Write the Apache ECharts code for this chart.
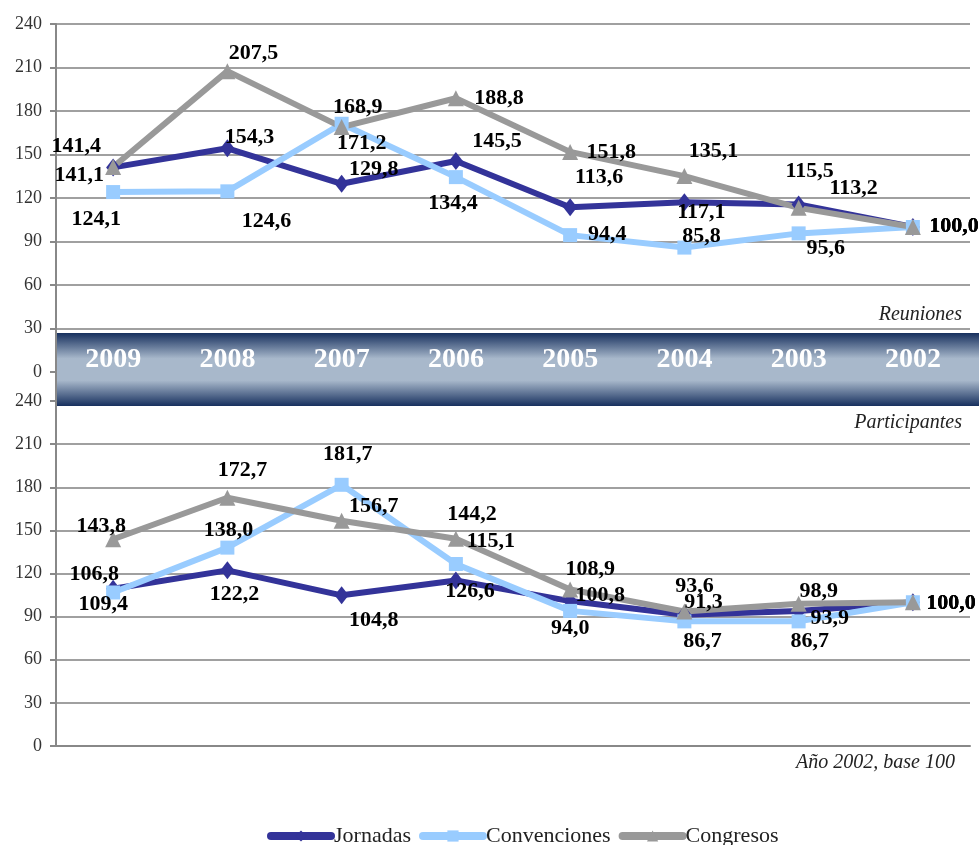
<!DOCTYPE html>
<html>
<head>
<meta charset="utf-8">
<script src="https://cdn.jsdelivr.net/npm/echarts@6/dist/echarts.min.js"></script>
<style>
  html, body { margin: 0; padding: 0; background: #fff; }
  #chart { width: 979px; height: 845px; }
</style>
</head>
<body>
<div id="chart"></div>
<script>
// categories
var years = ['2009', '2008', '2007', '2006', '2005', '2004', '2003', '2002'];
var yTicks = [0, 30, 60, 90, 120, 150, 180, 210, 240];

// Reuniones (top)
var reunJornadas = [141.1, 154.3, 129.8, 145.5, 113.6, 117.1, 115.5, 100.0];
var reunConvenciones = [124.1, 124.6, 171.2, 134.4, 94.4, 85.8, 95.6, 100.0];
var reunCongresos = [141.4, 207.5, 168.9, 188.8, 151.8, 135.1, 113.2, 100.0];

// Participantes (bottom)
var partJornadas = [109.4, 122.2, 104.8, 115.1, 100.8, 91.3, 93.9, 100.0];
var partConvenciones = [106.8, 138.0, 181.7, 126.6, 94.0, 86.7, 86.7, 100.0];
var partCongresos = [143.8, 172.7, 156.7, 144.2, 108.9, 93.6, 98.9, 100.0];

// label placement (px offsets from the point), styling only
var offReunJor = [[-34, 8], [22, -11], [32, -14], [41, -20], [29, -30], [17, 10], [11, -33], [41, -1]];
var offReunCon = [[-17, 27], [39, 30], [20, 20], [-3, 26], [37, -1], [17, -11], [27, 15], [41, -1]];
var offReunCgr = [[-37, -21], [26, -18], [16, -20], [43, 0], [41, 0], [29, -25], [55, -20], [41, -1]];
var offPartJor = [[-10, 16], [7, 24], [32, 25], [35, -39], [30, -6], [19, -12], [31, 7], [38, 1]];
var offPartCon = [[-19, -18], [1, -17], [6, -30], [14, 27], [0, 17], [18, 20], [11, 20], [38, 1]];
var offPartCgr = [[-12, -13], [15, -27], [32, -14], [16, -24], [20, -20], [10, -25], [20, -13], [38, 1]];

var serif = '"Liberation Serif", "DejaVu Serif", serif';
var colJor = '#333399';
var colCon = '#99ccff';
var colCgr = '#999999';

function withLabels(values, offsets) {
  return values.map(function (v, i) {
    return { value: v, label: { offset: offsets[i] } };
  });
}

function makeSeries(name, values, offsets, idx, color, symbol, size) {
  return {
    name: name,
    type: 'line',
    xAxisIndex: idx,
    yAxisIndex: idx,
    data: withLabels(values, offsets),
    symbol: symbol,
    symbolSize: size,
    color: color,
    lineStyle: { width: 6, color: color },
    itemStyle: { color: color },
    label: {
      show: true,
      position: 'inside',
      fontFamily: serif,
      fontWeight: 'bold',
      fontSize: 22,
      color: '#000',
      formatter: function (p) { return p.value.toFixed(1).replace('.', ','); }
    },
    emphasis: { disabled: true }
  };
}

function yAx(idx) {
  return {
    type: 'value',
    gridIndex: idx,
    min: yTicks[0],
    max: yTicks[yTicks.length - 1],
    interval: 30,
    axisLine: { show: true, lineStyle: { color: '#888', width: 2 } },
    axisTick: { show: true, length: 6, lineStyle: { color: '#888', width: 2 } },
    axisLabel: { fontFamily: serif, fontSize: 18, color: '#333', margin: 14 },
    splitLine: { lineStyle: { color: '#a0a0a0', width: 2 } }
  };
}

var chart = echarts.init(document.getElementById('chart'));

var noteStyle = { fontFamily: serif, fontStyle: 'italic', fontWeight: 'normal', fontSize: 20, color: '#222' };

var option = {
  animation: false,
  backgroundColor: '#fff',
  title: [
    { text: 'Reuniones', right: 12, top: 300, textStyle: noteStyle },
    { text: 'Participantes', right: 12, top: 408, textStyle: noteStyle },
    { text: 'Año 2002, base 100', right: 19, top: 748, textStyle: noteStyle }
  ],
  legend: {
    left: 262,
    top: 820,
    itemWidth: 60,
    itemHeight: 14,
    itemGap: 8,
    lineStyle: { width: 8, cap: 'round' },
    textStyle: { fontFamily: serif, fontSize: 22, color: '#222', padding: [0, 0, 0, -2] },
    data: ['Jornadas', 'Convenciones', 'Congresos']
  },
  grid: [
    { left: 56, right: 9, top: 24, height: 348 },
    { left: 56, right: 9, top: 401, height: 345 }
  ],
  xAxis: [
    {
      type: 'category',
      gridIndex: 0,
      data: years,
      boundaryGap: true,
      z: 10,
      axisLine: { show: false },
      axisTick: { show: false },
      axisLabel: {
        interval: 0,
        margin: -12,
        verticalAlign: 'middle',
        fontFamily: serif,
        fontWeight: 'bold',
        fontSize: 28,
        color: '#fff'
      }
    },
    {
      type: 'category',
      gridIndex: 1,
      data: years,
      boundaryGap: true,
      axisLine: { show: true, lineStyle: { color: '#888', width: 2 } },
      axisTick: { show: false },
      axisLabel: { show: false }
    }
  ],
  yAxis: [yAx(0), yAx(1)],
  graphic: {
    elements: [
      {
        type: 'rect',
        z: 5,
        shape: { x: 57, y: 333, width: 922, height: 73 },
        style: {
          fill: new echarts.graphic.LinearGradient(0, 0, 0, 1, [
            { offset: 0, color: '#17305e' },
            { offset: 0.35, color: '#a8b8cb' },
            { offset: 0.65, color: '#a8b8cb' },
            { offset: 1, color: '#17305e' }
          ])
        }
      },
      {
        type: 'line',
        z: 5,
        shape: { x1: 56, y1: 372, x2: 56, y2: 401 },
        style: { stroke: '#888', lineWidth: 2 }
      }
    ]
  },
  series: [
    makeSeries('Jornadas', reunJornadas, offReunJor, 0, colJor, 'diamond', [14, 18]),
    makeSeries('Convenciones', reunConvenciones, offReunCon, 0, colCon, 'rect', 14),
    makeSeries('Congresos', reunCongresos, offReunCgr, 0, colCgr, 'triangle', 16),
    makeSeries('Jornadas', partJornadas, offPartJor, 1, colJor, 'diamond', [14, 18]),
    makeSeries('Convenciones', partConvenciones, offPartCon, 1, colCon, 'rect', 14),
    makeSeries('Congresos', partCongresos, offPartCgr, 1, colCgr, 'triangle', 16)
  ]
};

chart.setOption(option);
</script>
</body>
</html>
